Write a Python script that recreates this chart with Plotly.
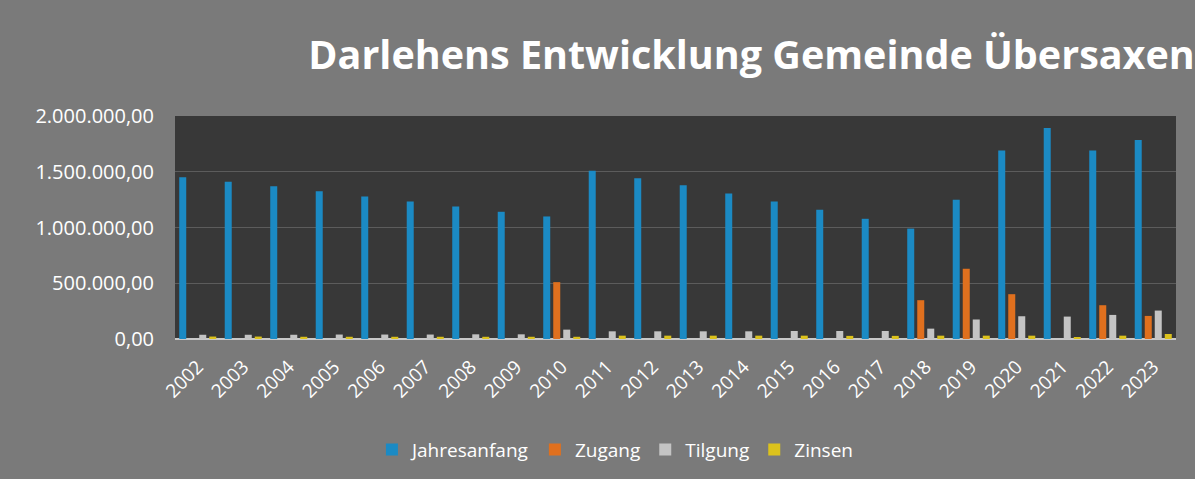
import plotly.graph_objects as go

years = [str(y) for y in range(2002, 2024)]
jahresanfang = [1450000, 1411000, 1369000, 1324000, 1279000, 1234000, 1189000, 1141000, 1099000,
                1508000, 1441000, 1378000, 1306000, 1234000, 1159000, 1078000, 990000, 1250000,
                1690000, 1892000, 1690000, 1784000]
zugang = [0, 0, 0, 0, 0, 0, 0, 0, 510000,
          0, 0, 0, 0, 0, 0, 0, 348000, 630000,
          402000, 0, 303000, 207000]
tilgung = [38000, 38000, 38000, 40000, 40000, 40000, 42000, 42000, 84000,
           69000, 69000, 69000, 69000, 72000, 72000, 72000, 93000, 175000,
           204000, 201000, 216000, 255000]
zinsen = [22000, 22000, 20000, 20000, 20000, 20000, 20000, 20000, 20000,
          30000, 30000, 30000, 30000, 30000, 28000, 28000, 30000, 30000,
          30000, 18000, 30000, 45000]

series = [
    ("Jahresanfang", jahresanfang, "#1b8ac4"),
    ("Zugang", zugang, "#e0701e"),
    ("Tilgung", tilgung, "#c4c4c4"),
    ("Zinsen", zinsen, "#dcc21c"),
]

fig = go.Figure()
for name, vals, col in series:
    fig.add_trace(go.Bar(x=years, y=vals, name=name, marker=dict(color=col, line=dict(width=0))))

fig.update_layout(
    width=1195, height=479,
    barmode="group", bargap=0.12, bargroupgap=0.3,
    separators=",.",
    paper_bgcolor="#7a7a7a",
    plot_bgcolor="#383838",
    margin=dict(l=175, r=19, t=116, b=139),
    title=dict(text="<b>Darlehens Entwicklung Gemeinde Übersaxen</b>",
               x=0.258, xanchor="left", y=0.885, yanchor="middle",
               font=dict(family="Open Sans", size=39.5, color="white")),
    font=dict(family="Open Sans", color="white"),
    legend=dict(orientation="h", x=0.44, xanchor="center", y=-0.49, yanchor="middle",
                font=dict(size=19, color="white"), bgcolor="rgba(0,0,0,0)",
                itemwidth=30, traceorder="normal"),
    xaxis=dict(tickangle=-45, tickfont=dict(size=19, color="white"),
               showgrid=False, showline=False, ticks="", ticklabelstandoff=12),
    yaxis=dict(range=[0, 2000000], tickvals=[0, 500000, 1000000, 1500000, 2000000],
               tickformat=",.2f", tickfont=dict(size=20, color="white"),
               gridcolor="#5c5c5c", zeroline=True, zerolinecolor="#c8c8c8", zerolinewidth=2,
               showline=False, ticklabelstandoff=20),
)

fig.write_html("out.html", config={"displayModeBar": False},
               post_script="document.body.style.margin='0';document.body.style.padding='0';")
